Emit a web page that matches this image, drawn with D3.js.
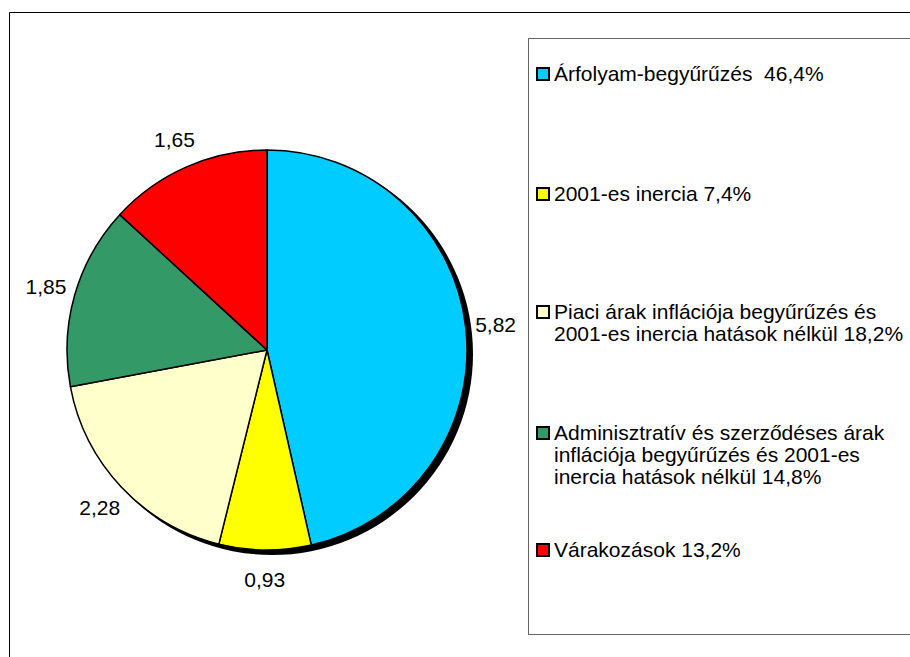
<!DOCTYPE html>
<html>
<head>
<meta charset="utf-8">
<script src="https://cdn.jsdelivr.net/npm/d3@7"></script>
<style>
  body { margin: 0; background: #fff; }
  svg { display: block; font-family: Arial, "Liberation Sans", sans-serif; }
  text { white-space: pre; }
</style>
</head>
<body>
<svg id="chart" width="910" height="657"></svg>
<script>
// values of the slices, clockwise from 12 o'clock
var values = [5.82, 0.93, 2.28, 1.85, 1.65];
var valueLabels = ["5,82", "0,93", "2,28", "1,85", "1,65"];
var colors = ["#00ccff", "#ffff00", "#ffffcc", "#339966", "#ff0000"];
var legendLabels = [
	["Árfolyam-begyűrűzés  46,4%"],
	["2001-es inercia 7,4%"],
	["Piaci árak inflációja begyűrűzés és", "2001-es inercia hatások nélkül 18,2%"],
	["Adminisztratív és szerződéses árak", "inflációja begyűrűzés és 2001-es", "inercia hatások nélkül 14,8%"],
	["Várakozások 13,2%"]
];
var legendTop = [81, 201, 319, 440, 557];

var svg = d3.select("#chart");

// outer frame (runs off right and bottom)
svg.append("path")
	.attr("d", "M 9.5 670 L 9.5 12.5 L 920 12.5")
	.attr("fill", "none")
	.attr("stroke", "#000")
	.attr("stroke-width", 1);

var cx = 267, cy = 350, radius = 200;

var pie = d3.pie().sort(null).value(function (d) { return d; });
var arcs = pie(values);
var arc = d3.arc().innerRadius(0).outerRadius(radius);
var labelArc = d3.arc().innerRadius(230).outerRadius(230);

var g = svg.append("g").attr("transform", "translate(" + cx + "," + cy + ")");

// shadow
g.append("circle")
	.attr("cx", 5)
	.attr("cy", 4)
	.attr("r", radius + 1)
	.attr("fill", "#000");

g.selectAll("path.slice")
	.data(arcs)
	.enter()
	.append("path")
	.attr("class", "slice")
	.attr("d", arc)
	.attr("fill", function (d, i) { return colors[i]; })
	.attr("stroke", "#000")
	.attr("stroke-width", 1.5)
	.attr("stroke-linejoin", "round");

g.selectAll("text.val")
	.data(arcs)
	.enter()
	.append("text")
	.attr("class", "val")
	.attr("transform", function (d) {
		var c = labelArc.centroid(d);
		return "translate(" + c[0] + "," + c[1] + ")";
	})
	.attr("text-anchor", "middle")
	.attr("dy", "0.35em")
	.attr("font-size", "21px")
	.text(function (d, i) { return valueLabels[i]; });

// legend
svg.append("rect")
	.attr("x", 528.5)
	.attr("y", 38.5)
	.attr("width", 400)
	.attr("height", 596)
	.attr("fill", "#fff")
	.attr("stroke", "#666")
	.attr("stroke-width", 1);

var items = svg.selectAll("g.item")
	.data(legendLabels)
	.enter()
	.append("g")
	.attr("class", "item")
	.attr("transform", function (d, i) { return "translate(0," + legendTop[i] + ")"; });

items.append("rect")
	.attr("x", 537)
	.attr("y", -13)
	.attr("width", 12)
	.attr("height", 12)
	.attr("fill", function (d, i) { return colors[i]; })
	.attr("stroke", "#000")
	.attr("stroke-width", 2);

items.append("text")
	.attr("x", 554)
	.attr("font-size", "21px")
	.selectAll("tspan")
	.data(function (d) { return d; })
	.enter()
	.append("tspan")
	.attr("x", 554)
	.attr("y", function (d, j) { return j * 22; })
	.text(function (d) { return d; });
</script>
</body>
</html>
